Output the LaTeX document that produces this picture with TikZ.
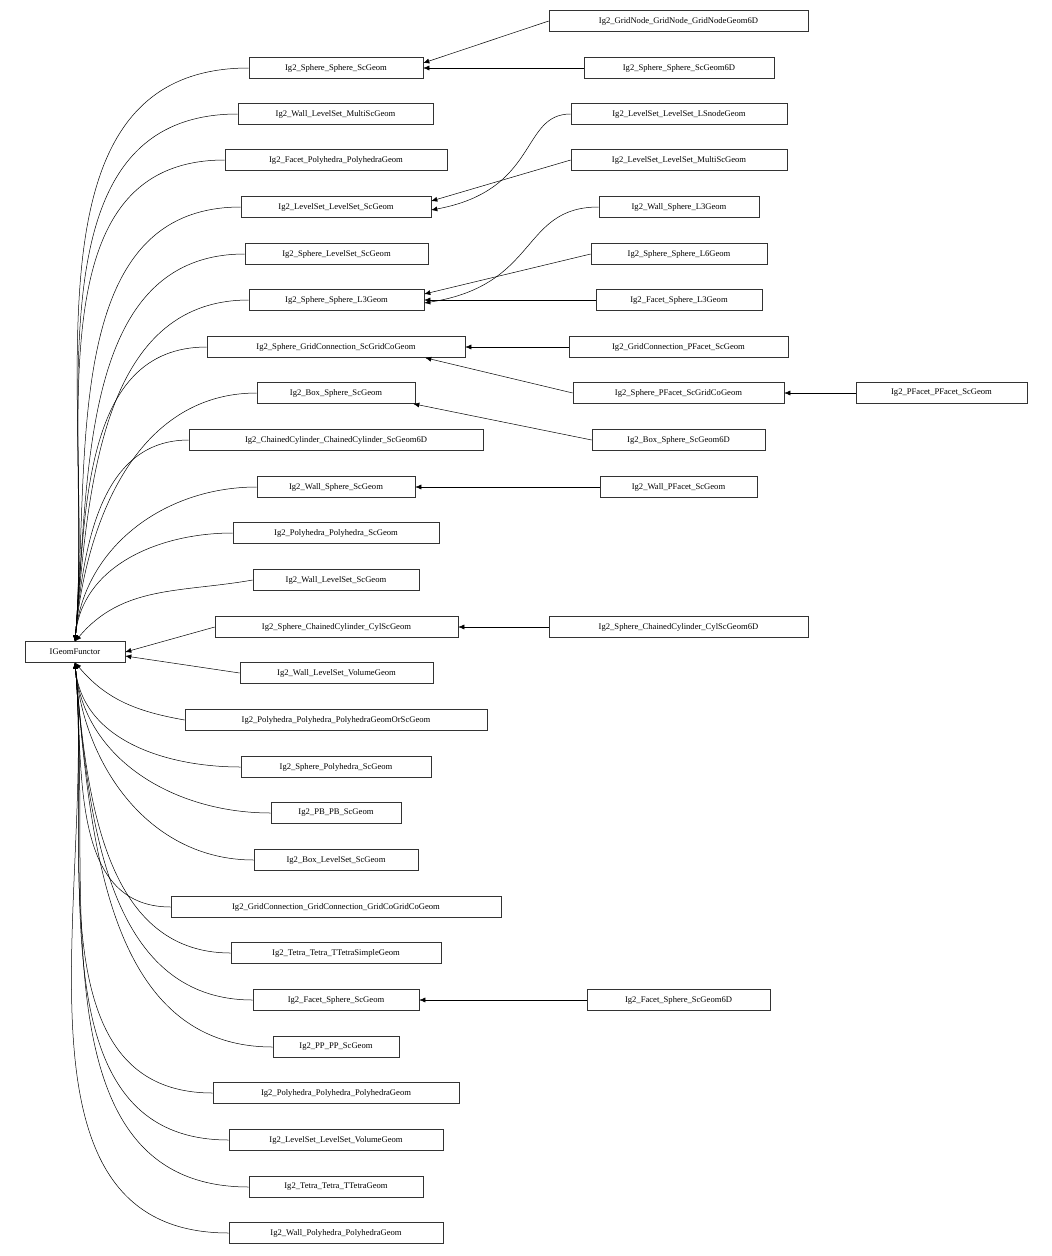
\documentclass[tikz,border=0pt]{standalone}
\usepackage{fontspec}
\setmainfont{Liberation Serif}
\usetikzlibrary{arrows.meta}
\begin{document}
\begin{tikzpicture}[x=1pt,y=-1pt,
  bx/.style={draw=black!80,line width=0.6pt,minimum height=21pt,inner sep=0pt,font=\fontsize{8.6}{10}\selectfont,fill=white},
  arr/.style={-{Latex[length=6pt,width=5pt]},line width=0.5pt}]
\useasboundingbox (0,0) rectangle (1052,1256);
\newcommand\nd[5]{\node[bx,minimum width=#4] (#1) at (#2,#3) {#5};}
\nd{IG}{75}{652}{100}{IGeomFunctor}
% middle column
\nd{m1}{336}{68}{174}{Ig2\_Sphere\_Sphere\_ScGeom}
\nd{m2}{335.5}{114}{195}{Ig2\_Wall\_LevelSet\_MultiScGeom}
\nd{m3}{336}{160}{222}{Ig2\_Facet\_Polyhedra\_PolyhedraGeom}
\nd{m4}{336}{207}{190}{Ig2\_LevelSet\_LevelSet\_ScGeom}
\nd{m5}{336.5}{254}{183}{Ig2\_Sphere\_LevelSet\_ScGeom}
\nd{m6}{336.5}{300}{175}{Ig2\_Sphere\_Sphere\_L3Geom}
\nd{m7}{336}{347}{258}{Ig2\_Sphere\_GridConnection\_ScGridCoGeom}
\nd{m8}{336}{393}{158}{Ig2\_Box\_Sphere\_ScGeom}
\nd{m9}{336}{440}{294}{Ig2\_ChainedCylinder\_ChainedCylinder\_ScGeom6D}
\nd{m10}{336}{487}{158}{Ig2\_Wall\_Sphere\_ScGeom}
\nd{m11}{336}{533}{206}{Ig2\_Polyhedra\_Polyhedra\_ScGeom}
\nd{m12}{336}{580}{166}{Ig2\_Wall\_LevelSet\_ScGeom}
\nd{m13}{336.5}{627}{243}{Ig2\_Sphere\_ChainedCylinder\_CylScGeom}
\nd{m14}{336.5}{673}{193}{Ig2\_Wall\_LevelSet\_VolumeGeom}
\nd{m15}{336}{720}{302}{Ig2\_Polyhedra\_Polyhedra\_PolyhedraGeomOrScGeom}
\nd{m16}{336}{767}{190}{Ig2\_Sphere\_Polyhedra\_ScGeom}
\nd{m17}{336}{813}{130}{Ig2\_PB\_PB\_ScGeom}
\nd{m18}{336}{860}{164}{Ig2\_Box\_LevelSet\_ScGeom}
\nd{m19}{336}{907}{330}{Ig2\_GridConnection\_GridConnection\_GridCoGridCoGeom}
\nd{m20}{336}{953}{210}{Ig2\_Tetra\_Tetra\_TTetraSimpleGeom}
\nd{m21}{336}{1000}{166}{Ig2\_Facet\_Sphere\_ScGeom}
\nd{m22}{336}{1047}{126}{Ig2\_PP\_PP\_ScGeom}
\nd{m23}{336}{1093}{246}{Ig2\_Polyhedra\_Polyhedra\_PolyhedraGeom}
\nd{m24}{336}{1140}{214}{Ig2\_LevelSet\_LevelSet\_VolumeGeom}
\nd{m25}{336}{1187}{174}{Ig2\_Tetra\_Tetra\_TTetraGeom}
\nd{m26}{336}{1233}{214}{Ig2\_Wall\_Polyhedra\_PolyhedraGeom}
% right column
\nd{r1}{678.5}{21}{259}{Ig2\_GridNode\_GridNode\_GridNodeGeom6D}
\nd{r2}{679}{68}{190}{Ig2\_Sphere\_Sphere\_ScGeom6D}
\nd{r3}{679}{114}{216}{Ig2\_LevelSet\_LevelSet\_LSnodeGeom}
\nd{r4}{679}{160}{216}{Ig2\_LevelSet\_LevelSet\_MultiScGeom}
\nd{r5}{679}{207}{160}{Ig2\_Wall\_Sphere\_L3Geom}
\nd{r6}{679}{254}{176}{Ig2\_Sphere\_Sphere\_L6Geom}
\nd{r7}{679}{300}{166}{Ig2\_Facet\_Sphere\_L3Geom}
\nd{r8}{678.5}{347}{219}{Ig2\_GridConnection\_PFacet\_ScGeom}
\nd{r9}{678.5}{393}{211}{Ig2\_Sphere\_PFacet\_ScGridCoGeom}
\nd{r10}{678.5}{440}{173}{Ig2\_Box\_Sphere\_ScGeom6D}
\nd{r11}{678.5}{487}{157}{Ig2\_Wall\_PFacet\_ScGeom}
\nd{r12}{678.5}{627}{259}{Ig2\_Sphere\_ChainedCylinder\_CylScGeom6D}
\nd{r13}{678.5}{1000}{183}{Ig2\_Facet\_Sphere\_ScGeom6D}
\nd{p1}{941.5}{393}{171}{Ig2\_PFacet\_PFacet\_ScGeom}
% edges to IGeomFunctor
\foreach \m in {m1,m2,m3,m4,m5,m6,m7,m8,m9,m10,m11}
  \draw[arr] (\m.west) to[out=180,in=85] (IG.north);
\draw[arr] (m12.west) to[out=190,in=50] ([xshift=-50]IG.north east);
\draw[arr] (m13.west) -- (IG.east);
\draw[arr] (m14.west) -- ([yshift=-4]IG.east);
\draw[arr] (m15.west) to[out=170,in=-50] ([xshift=-50]IG.south east);
\foreach \m in {m16,m17,m18,m19,m20,m21,m22,m23,m24,m25,m26}
  \draw[arr] (\m.west) to[out=180,in=-85] (IG.south);
% right to middle
\draw[arr] (r1.west) -- ([yshift=5]m1.east);
\draw[arr] (r2.west) -- (m1.east);
\draw[arr] (r3.west) .. controls (520,114) and (540,190) .. ([yshift=-3]m4.east);
\draw[arr] (r4.west) -- ([yshift=6]m4.east);
\draw[arr] (r5.west) .. controls (520,207) and (540,285) .. ([yshift=-3]m6.east);
\draw[arr] (r6.west) -- ([yshift=6]m6.east);
\draw[arr] (r7.west) -- (m6.east);
\draw[arr] (r8.west) -- (m7.east);
\draw[arr] (r9.west) -- ([xshift=-40]m7.south east);
\draw[arr] (r10.west) -- ([xshift=-2]m8.south east);
\draw[arr] (r11.west) -- (m10.east);
\draw[arr] (r12.west) -- (m13.east);
\draw[arr] (r13.west) -- (m21.east);
\draw[arr] (p1.west) -- (r9.east);
\end{tikzpicture}
\end{document}
